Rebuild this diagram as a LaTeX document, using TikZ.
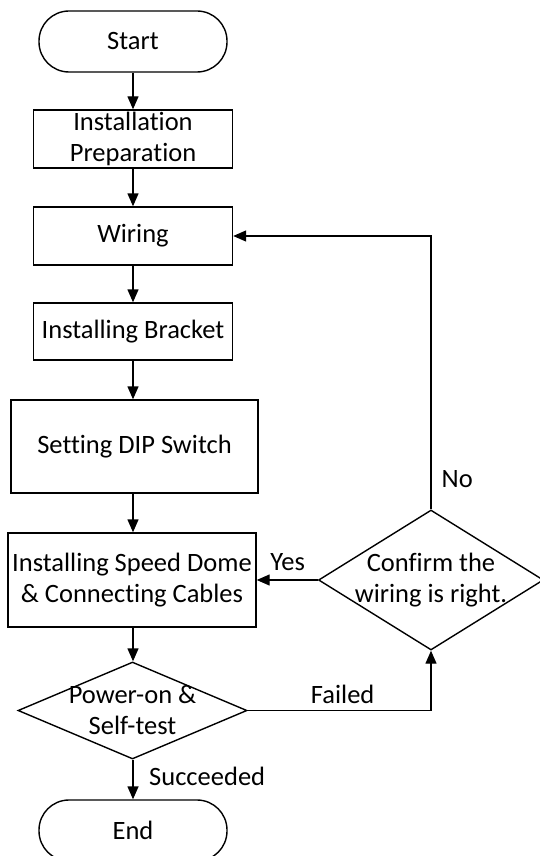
\documentclass[tikz,border=0pt]{standalone}
\usepackage{fontspec}
\setmainfont[Ligatures=NoCommon]{Carlito}
\usepackage{tikz}
\usetikzlibrary{arrows.meta,positioning,calc,shapes.geometric}
\tikzset{
    >={Triangle[length=13pt,width=11pt]},
    every picture/.style={line width=1.4pt},
    process/.style={rectangle,draw,inner sep=0pt,align=center},
    terminal/.style={rectangle,draw,rounded corners=30pt,inner sep=0pt,
        minimum width=188pt,minimum height=61pt},
    decision/.style={diamond,draw,inner sep=0pt},
    lbl/.style={inner sep=0pt}
}

\begin{document}
\begin{tikzpicture}[x=1pt,y=-1pt,
        every node/.style={font=\fontsize{26.5}{31}\selectfont}]
        \useasboundingbox (0,0) rectangle (539,856);

        % Main steps
        \node[terminal] (start) at (133,41.5) {Start};
        \node[process,minimum width=199pt,minimum height=58pt] (prep) at (133,139) {Installation\\Preparation};
        \node[process,minimum width=199pt,minimum height=58pt] (wiring) at (133,236) {Wiring};
        \node[process,minimum width=199pt,minimum height=57pt] (bracket) at (133,331.5) {Installing Bracket};
        \node[process,minimum width=247pt,minimum height=93pt] (dip) at (134.5,446.5) {Setting DIP Switch};
        \node[process,minimum width=248pt,minimum height=94pt] (speed) at (132,580) {Installing Speed Dome\\\& Connecting Cables};
        \node[decision,minimum width=229pt,minimum height=97pt] (power) at (132.5,710.5) {};
        \node[align=center] at (power) {Power-on \&\\Self-test};
        \node[terminal] (end) at (133,830.5) {End};
        \node[decision,minimum width=225pt,minimum height=140pt] (confirm) at (431,580) {};
        \node[align=center] at (confirm) {Confirm the\\wiring is right.};

        \draw[->] (start) -- (prep);
        \draw[->] (prep) -- (wiring);
        \draw[->] (wiring) -- (bracket);
        \draw[->] (bracket) -- (dip.north -| bracket.south);
        \draw[->] (dip.south -| bracket.south) -- (speed.north -| bracket.south);
        \draw[->] (speed.south -| bracket.south) -- (power.north -| bracket.south);
        \draw[->] (power.south -| bracket.south) -- (end);
        \draw[->] (power.east) -| (confirm.south);
        \draw[->] (confirm.west) -- (speed.east);
        \draw[->] (confirm.north) |- (wiring.east);

        % Branch labels
        \node[lbl,anchor=base west] at ($(power.south)+(16,26)$) {Succeeded};
        \node[lbl,anchor=base] at ($(power.east)+(95,-7)$) {Failed};
        \node[lbl,anchor=base west] at ($(speed.east)+(13,-10)$) {Yes};
        \node[lbl,anchor=base west] at ($(confirm.north)+(10,-22)$) {No};
\end{tikzpicture}
\end{document}
